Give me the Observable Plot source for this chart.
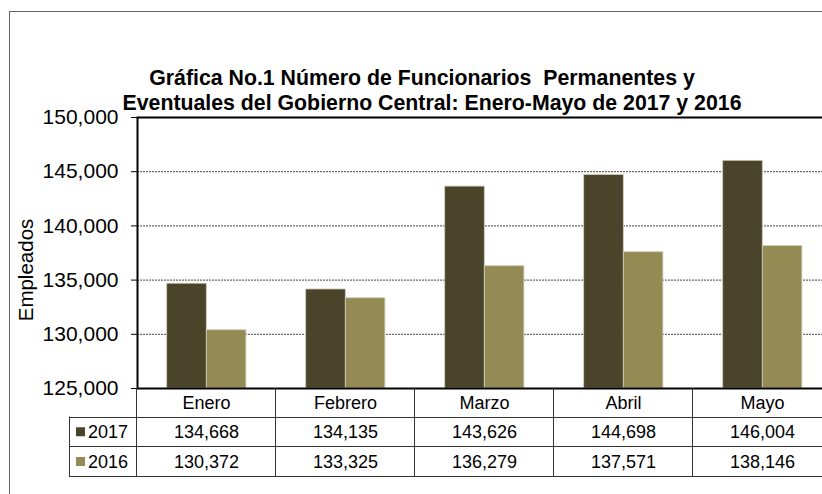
<!DOCTYPE html>
<html><head><meta charset="utf-8">
<script src="https://cdn.jsdelivr.net/npm/d3@7"></script>
<script src="https://cdn.jsdelivr.net/npm/@observablehq/plot@0.6"></script>
<style>
html,body{margin:0;padding:0;background:#fff;}
body{width:822px;height:494px;overflow:hidden;position:relative;font-family:Arial,"Liberation Sans",sans-serif;}
#outer{position:absolute;left:9px;top:11px;width:900px;height:600px;border-left:1px solid #666;border-top:1px solid #666;}
#title{position:absolute;left:0;top:66px;width:864px;text-align:center;font-weight:bold;font-size:21.3px;line-height:25px;color:#000;}
#title div{white-space:pre;}
#chart{position:absolute;left:0;top:0;}
</style></head><body>
<div id="outer"></div>
<div id="chart"></div>
<div id="title"></div>
<script>
const titleLines = ["Gráfica No.1 Número de Funcionarios  Permanentes y", "Eventuales del Gobierno Central: Enero-Mayo de 2017 y 2016"];
const months = ["Enero", "Febrero", "Marzo", "Abril", "Mayo"];
const years = ["2017", "2016"];
const values2017 = [134668, 134135, 143626, 144698, 146004];
const values2016 = [130372, 133325, 136279, 137571, 138146];
const yTicks = [125000, 130000, 135000, 140000, 145000, 150000];
const gridTicks = [130000, 135000, 140000, 145000];
const yLabel = "Empleados";
const colors = {"2017": "#4A452A", "2016": "#948A54"};

const titleEl = document.getElementById("title");
titleLines.forEach((t, i) => {
  const d = document.createElement("div");
  d.textContent = t;
  if (i === 0) d.style.paddingRight = "20px";
  titleEl.appendChild(d);
});

const seriesValues = {"2017": values2017, "2016": values2016};
const rows = years.map(yr => months.map((m, i) => ({month: m, year: yr, value: seriesValues[yr][i]})));
const fmt = d3.format(",");
const font = "Arial, 'Liberation Sans', sans-serif";

const plot = Plot.plot({
  width: 822, height: 494,
  marginLeft: 137, marginRight: -10, marginTop: 117, marginBottom: 106,
  style: {fontFamily: font, background: "transparent", overflow: "visible", color: "#000"},
  x: {domain: months, padding: 0, axis: null},
  y: {domain: [125000, 150000], axis: null},
  marks: [
    Plot.ruleY(gridTicks, {stroke: "#444", strokeDasharray: "2,1", strokeWidth: 1}),
    Plot.barY(rows[0], {x: "month", y1: 125000, y2: "value", fill: colors["2017"], stroke: "#cfccbb", strokeWidth: 0.8, insetLeft: 29.7, insetRight: 69.7}),
    Plot.barY(rows[1], {x: "month", y1: 125000, y2: "value", fill: colors["2016"], stroke: "#cfccbb", strokeWidth: 0.8, insetLeft: 69.3, insetRight: 30.1}),
    Plot.frame({stroke: "#000", strokeWidth: 2}),
    Plot.axisY({ticks: yTicks, tickFormat: fmt, tickSize: 6, tickPadding: 13, fontSize: 21, label: null, anchor: "left", stroke: "#000"}),
    Plot.text([yLabel], {frameAnchor: "left", textAnchor: "middle", rotate: -90, dx: -111, dy: 17, fontSize: 20.5, fill: "#000"})
  ]
});
document.getElementById("chart").appendChild(plot);

// data table under the chart, positioned with Plot's own scales
const xs = plot.scale("x"), ys = plot.scale("y");
const bw = xs.bandwidth;
const top0 = ys.apply(125000);
const rowEdges = [0, 28.5, 58, 88].map(d => top0 + d);
const legendLeft = xs.apply(months[0]) - 68;
const svg = d3.select(plot);
const g = svg.append("g").attr("font-family", font).attr("font-size", 18).attr("fill", "#000");
const lineColor = "#333";
const right = xs.apply(months[months.length - 1]) + bw;
for (let k = 1; k < rowEdges.length; k++) {
  g.append("line").attr("x1", legendLeft).attr("x2", right)
    .attr("y1", Math.round(rowEdges[k]) + 0.5).attr("y2", Math.round(rowEdges[k]) + 0.5)
    .attr("stroke", lineColor);
}
g.append("line").attr("x1", legendLeft + 0.5).attr("x2", legendLeft + 0.5)
  .attr("y1", rowEdges[1]).attr("y2", rowEdges[3] + 1).attr("stroke", lineColor);
months.forEach(m => {
  const xv = Math.round(xs.apply(m)) - 0.5;
  g.append("line").attr("x1", xv).attr("x2", xv).attr("y1", rowEdges[0]).attr("y2", rowEdges[3] + 1).attr("stroke", lineColor);
});
months.forEach(m => {
  g.append("text").attr("x", xs.apply(m) + bw / 2).attr("y", (rowEdges[0] + rowEdges[1]) / 2 + 1)
    .attr("text-anchor", "middle").attr("dominant-baseline", "central").text(m);
});
years.forEach((yr, r) => {
  const cy = (rowEdges[r + 1] + rowEdges[r + 2]) / 2 + 1;
  g.append("rect").attr("x", legendLeft + 7).attr("y", cy - 5).attr("width", 9).attr("height", 9).attr("fill", colors[yr]);
  g.append("text").attr("x", legendLeft + 19).attr("y", cy).attr("text-anchor", "start").attr("dominant-baseline", "central").text(yr);
  rows[r].forEach(d => {
    g.append("text").attr("x", xs.apply(d.month) + bw / 2).attr("y", cy)
      .attr("text-anchor", "middle").attr("dominant-baseline", "central").text(fmt(d.value));
  });
});
</script>
</body></html>
